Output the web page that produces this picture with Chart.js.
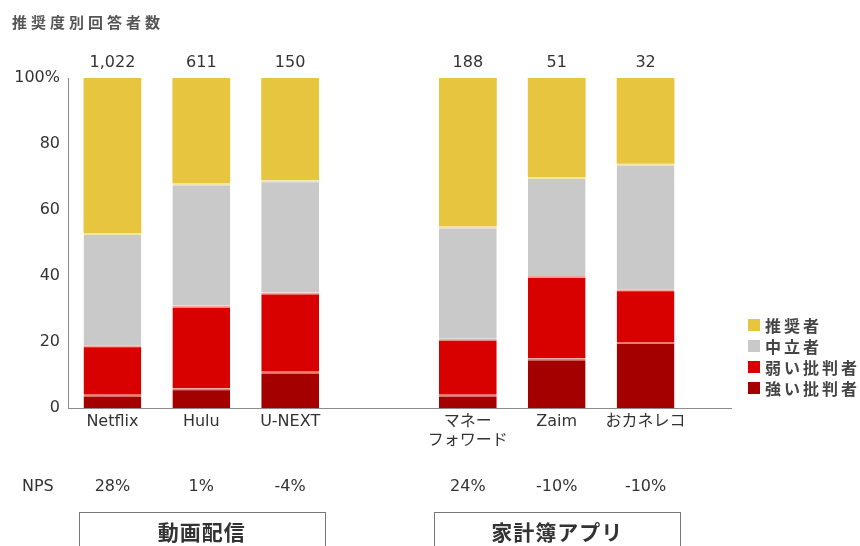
<!DOCTYPE html>
<html>
<head>
<meta charset="utf-8">
<script src="https://cdn.jsdelivr.net/npm/chart.js@4.4.1/dist/chart.umd.min.js"></script>
<style>
    body { margin: 0; background: #fff; }
    #wrap { position: relative; width: 860px; height: 546px; }
    #legend {
        position: absolute; left: 748px; top: 314px;
        list-style: none; margin: 0; padding: 0;
        font-family: 'Noto Sans CJK JP', sans-serif; font-size: 16px; font-weight: bold;
        color: #444; letter-spacing: 3px;
    }
    #legend li { display: flex; align-items: center; height: 21px; }
    .itemMarker { display: inline-block; width: 12px; height: 12px; margin-right: 5px; }
</style>
</head>
<body>
<div id="wrap">
    <canvas id="myChart" width="860" height="546"></canvas>
    <ul id="legend"></ul>
</div>
<script>
const categories = ['Netflix', 'Hulu', 'U-NEXT', '', ['マネー', 'フォワード'], 'Zaim', 'おカネレコ'];
const strongCritics = [4, 6, 11, null, 4, 15, 20];
const weakCritics = [15, 25, 24, null, 17, 25, 16];
const neutrals = [34, 37, 34, null, 34, 30, 38];
const promoters = [47, 32, 31, null, 45, 30, 26];
const respondents = ['1,022', '611', '150', '', '188', '51', '32'];
const npsValues = ['28%', '1%', '-4%', '', '24%', '-10%', '-10%'];
const groups = [
    { label: '動画配信', from: 0, to: 2 },
    { label: '家計簿アプリ', from: 4, to: 6 }
];

const latin = "'DejaVu Sans', 'Noto Sans CJK JP', sans-serif";
const jp = "'Noto Sans CJK JP', sans-serif";
Chart.defaults.font.family = latin;
Chart.defaults.font.size = 16;
Chart.defaults.color = '#333';

function makeDataset(label, data, color, sepColor) {
    return {
        label: label,
        data: data,
        backgroundColor: color,
        borderColor: sepColor || color,
        borderWidth: sepColor ? { top: 2, left: 0, right: 0, bottom: 0 } : 0,
        barPercentage: 0.65,
        categoryPercentage: 1
    };
}

// extra text and lines around the plot
const annotations = {
    id: 'annotations',
    afterDraw(chart) {
        const ctx = chart.ctx;
        const area = chart.chartArea;
        const yTop = chart.scales.y.getPixelForValue(100);
        const bars = chart.getDatasetMeta(3).data;
        ctx.save();

        // baseline
        ctx.strokeStyle = '#8c8c8c';
        ctx.lineWidth = 1;
        ctx.beginPath();
        ctx.moveTo(area.left, area.bottom + 0.5);
        ctx.lineTo(area.right + 42, area.bottom + 0.5);
        ctx.stroke();

        // title
        ctx.fillStyle = '#555';
        ctx.font = 'bold 15px ' + jp;
        ctx.letterSpacing = '4px';
        ctx.textAlign = 'left';
        ctx.textBaseline = 'middle';
        ctx.fillText('推奨度別回答者数', 12, 22);
        ctx.letterSpacing = '0px';

        // counts + NPS
        ctx.fillStyle = '#333';
        ctx.font = '16px ' + latin;
        ctx.textAlign = 'center';
        for (let i = 0; i < bars.length; i++) {
            if (!respondents[i]) continue;
            const x = bars[i].x;
            ctx.fillText(respondents[i], x, yTop - 15);
            ctx.fillText(npsValues[i], x, 487);
        }
        ctx.textAlign = 'left';
        ctx.fillText('NPS', 22, 487);

        // group boxes
        ctx.strokeStyle = '#777';
        ctx.fillStyle = '#333';
        ctx.font = 'bold 21px ' + jp;
        ctx.textAlign = 'center';
        ctx.letterSpacing = '1px';
        groups.forEach(function (g) {
            const left = bars[g.from].x - bars[g.from].width / 2 - 5;
            const right = bars[g.to].x + bars[g.to].width / 2 + 6;
            ctx.strokeRect(Math.round(left) + 0.5, 512.5, Math.round(right - left), 40);
            ctx.fillText(g.label, (left + right) / 2, 532);
        });
        ctx.restore();
    }
};

function generateCustomLegend(chart) {
    const legendContainer = document.getElementById('legend');
    legendContainer.innerHTML = '';
    const sets = chart.data.datasets.slice().reverse();
    for (let i = 0; i < sets.length; i++) {
        const listItem = document.createElement('li');
        const itemMarker = document.createElement('span');
        const itemText = document.createElement('span');
        itemMarker.classList.add('itemMarker');
        itemMarker.style.backgroundColor = sets[i].backgroundColor;
        itemText.appendChild(document.createTextNode(sets[i].label));
        listItem.appendChild(itemMarker);
        listItem.appendChild(itemText);
        legendContainer.appendChild(listItem);
    }
}

const barChartData = {
    labels: categories,
    datasets: [
        makeDataset('強い批判者', strongCritics, '#a50000', '#ee7a70'),
        makeDataset('弱い批判者', weakCritics, '#d90000', '#f4a49c'),
        makeDataset('中立者', neutrals, '#c9c9c9', '#f1e4b0'),
        makeDataset('推奨者', promoters, '#e8c53f')
    ]
};

const barChartOptions = {
    responsive: false,
    animation: false,
    layout: {
        padding: { left: 0, right: 170, top: 78, bottom: 88 }
    },
    plugins: {
        legend: { display: false },
        tooltip: { enabled: false }
    },
    scales: {
        x: {
            stacked: true,
            grid: { display: false, drawTicks: false },
            border: { display: false },
            ticks: { autoSkip: false, maxRotation: 0, padding: 4, color: '#333' },
            afterFit: function (scale) { scale.height = 50; }
        },
        y: {
            stacked: true,
            min: 0,
            max: 100,
            grid: { display: false, drawTicks: false },
            border: { display: true, color: '#8c8c8c', width: 1 },
            ticks: {
                stepSize: 20,
                padding: 8,
                color: '#333',
                callback: function (val) { return val === 100 ? '100%' : val; }
            },
            afterFit: function (scale) { scale.width = 68; }
        }
    }
};

const ctx = document.getElementById('myChart');
const myChart = new Chart(ctx, {
    type: 'bar',
    data: barChartData,
    options: barChartOptions,
    plugins: [annotations]
});
generateCustomLegend(myChart);
</script>
</body>
</html>
